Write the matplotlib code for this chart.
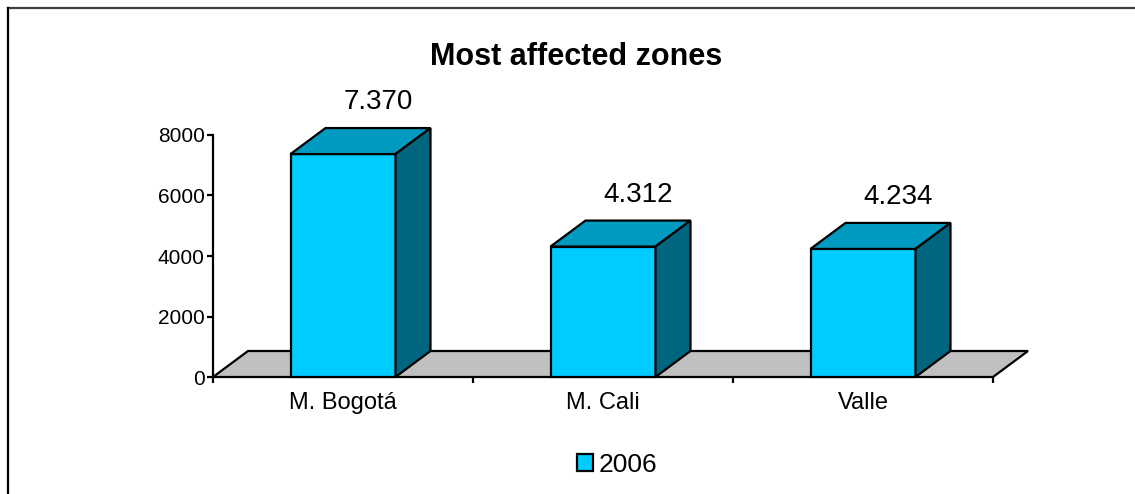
import matplotlib
matplotlib.use("Agg")
import matplotlib.pyplot as plt
from matplotlib.patches import Polygon, Rectangle, Patch
from matplotlib.lines import Line2D

plt.rcParams['font.family'] = ['Liberation Sans', 'DejaVu Sans']

zones = ['M. Bogotá', 'M. Cali', 'Valle']
values_2006 = [7370, 4312, 4234]
yticks = [0, 2000, 4000, 6000, 8000]

front = '#00CCFF'
top = '#0099C0'
side = '#00667F'
floor = '#C0C0C0'

fig = plt.figure(figsize=(11.35, 4.94), dpi=100)
ax = fig.add_axes([213/1135, 117/494, 780/1135, 242/494])
ax.set_xlim(0, len(zones))
ax.set_ylim(0, 8000)

# 3d depth, in data units
dx = 35/260
dy = 26/242*8000
w = 105/260
lw = 1.6

n = len(zones)
ax.add_patch(Polygon([(0, 0), (n, 0), (n+dx, dy), (dx, dy)], closed=True,
                     facecolor=floor, edgecolor='black', lw=lw, clip_on=False, zorder=2))

for i, v in enumerate(values_2006):
    x0 = i + 0.5 - w/2
    x1 = x0 + w
    ax.add_patch(Rectangle((x0, 0), w, v, facecolor=front, edgecolor='black',
                           lw=lw, clip_on=False, zorder=3, joinstyle='miter'))
    ax.add_patch(Polygon([(x0, v), (x1, v), (x1+dx, v+dy), (x0+dx, v+dy)], closed=True,
                         facecolor=top, edgecolor='black', lw=lw, clip_on=False, zorder=3))
    ax.add_patch(Polygon([(x1, 0), (x1+dx, dy), (x1+dx, v+dy), (x1, v)], closed=True,
                         facecolor=side, edgecolor='black', lw=lw, clip_on=False, zorder=3))
    lab = f"{v:,}".replace(",", ".")
    ax.annotate(lab, (i + 0.5 + dx, v + dy), xytext=(0, 13), textcoords='offset pixels',
                ha='center', va='bottom', fontsize=20, annotation_clip=False)

for s in ['top', 'right', 'bottom']:
    ax.spines[s].set_visible(False)
ax.spines['left'].set_linewidth(lw)
ax.spines['left'].set_zorder(4)

ax.set_yticks(yticks)
ax.set_yticklabels([str(t) for t in yticks], fontsize=15)
ax.tick_params(axis='y', direction='out', length=4, width=lw, pad=2)

ax.set_xticks(range(n + 1))
ax.set_xticklabels([])
ax.tick_params(axis='x', which='major', direction='out', length=4, width=lw)
ax.set_xticks([i + 0.5 for i in range(n)], minor=True)
ax.set_xticklabels(zones, minor=True, fontsize=17)
ax.tick_params(axis='x', which='minor', length=0, pad=11)

fig.text(576/1135, 1 - 57/494, 'Most affected zones', ha='center', va='center',
         fontsize=22, fontweight='bold')

handle = Patch(facecolor=front, edgecolor='black', lw=lw)
fig.legend([handle], ['2006'], loc='center', bbox_to_anchor=(617/1135, 1 - 465/494),
           frameon=False, fontsize=19, handlelength=0.6, handleheight=0.6,
           handletextpad=0.2)

# chart area border
fig.add_artist(Line2D([7.5/1135, 1], [1 - 8.5/494, 1 - 8.5/494], color='#404040', lw=1.6))
fig.add_artist(Line2D([7.5/1135, 7.5/1135], [0, 1 - 8.5/494], color='black', lw=1.6))

fig.savefig('out.png', dpi=100)
